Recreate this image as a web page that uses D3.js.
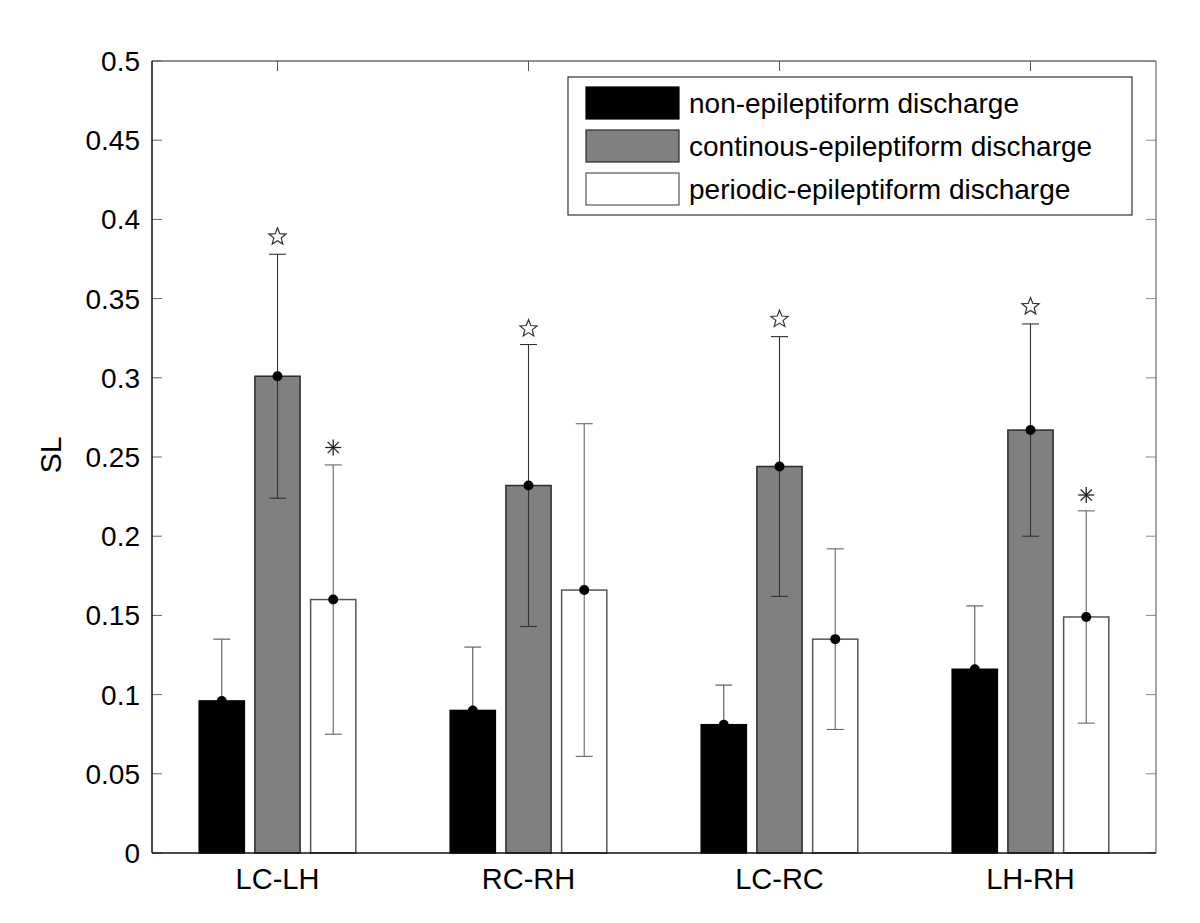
<!DOCTYPE html>
<html><head><meta charset="utf-8">
<script src="https://cdn.jsdelivr.net/npm/d3@7"></script>
<style>body{margin:0;background:#fff}svg{display:block}text{font-family:Arial,"Liberation Sans",Helvetica,sans-serif}</style>
</head><body><div id="chart"></div>
<script>
const categories = ["LC-LH","RC-RH","LC-RC","LH-RH"];
const seriesNames = ["non-epileptiform discharge","continous-epileptiform discharge","periodic-epileptiform discharge"];
const nonMean = [0.096, 0.090, 0.081, 0.116];
const nonErr  = [0.039, 0.040, 0.025, 0.040];
const contMean = [0.301, 0.232, 0.244, 0.267];
const contErr  = [0.077, 0.089, 0.082, 0.067];
const perMean = [0.160, 0.166, 0.135, 0.149];
const perErr  = [0.085, 0.105, 0.057, 0.067];
const starMark = [0.389, 0.331, 0.337, 0.345];      // pentagram markers above continuous bars
const asteriskMark = [0.256, null, null, 0.226];    // asterisk markers above periodic bars
const yTicks = [0,0.05,0.1,0.15,0.2,0.25,0.3,0.35,0.4,0.45,0.5];

const W=1200,H=923, L=152,R=1156,T=61,B=853;
const svg=d3.select("#chart").append("svg").attr("width",W).attr("height",H);
const x=d3.scaleLinear().domain([0.5,4.5]).range([L,R]);
const y=d3.scaleLinear().domain([0,0.5]).range([B,T]);
const fills=["#000000","#808080","#ffffff"];
const edges=["#000000","#2a2a2a","#555555"];
const errCols=["#555555","#333333","#666666"];
const offs=[-0.222,0,0.222], bw=0.18;
const means=[nonMean,contMean,perMean], errs=[nonErr,contErr,perErr];

// frame top/right
svg.append("line").attr("x1",L).attr("x2",R).attr("y1",T).attr("y2",T).attr("stroke","#222");
svg.append("line").attr("x1",R).attr("x2",R).attr("y1",T).attr("y2",B).attr("stroke","#888").attr("stroke-width",1.5);
// ticks
yTicks.forEach(t=>{
  svg.append("line").attr("x1",L).attr("x2",L+10).attr("y1",y(t)).attr("y2",y(t)).attr("stroke","#666");
  svg.append("line").attr("x1",R-10).attr("x2",R).attr("y1",y(t)).attr("y2",y(t)).attr("stroke","#888");
});
categories.forEach((c,i)=>{
  svg.append("line").attr("x1",x(i+1)).attr("x2",x(i+1)).attr("y1",T).attr("y2",T+10).attr("stroke","#555");
  svg.append("line").attr("x1",x(i+1)).attr("x2",x(i+1)).attr("y1",B).attr("y2",B-10).attr("stroke","#555");
});
function drawErr(s){
  const m=means[s];
  const g=svg.append("g").attr("stroke",errCols[s]).attr("stroke-width",1.1);
  m.forEach((d,i)=>{
    const cx=x(i+1+offs[s]), e=errs[s][i];
    g.append("line").attr("x1",cx).attr("x2",cx).attr("y1",y(d-e)).attr("y2",y(d+e));
    g.append("line").attr("x1",cx-8.5).attr("x2",cx+8.5).attr("y1",y(d+e)).attr("y2",y(d+e));
    g.append("line").attr("x1",cx-8.5).attr("x2",cx+8.5).attr("y1",y(d-e)).attr("y2",y(d-e));
  });
}
// black-series error bars sit behind their bars
drawErr(0);
// bars
means.forEach((m,s)=>{
  svg.append("g").selectAll("rect").data(m).join("rect")
    .attr("x",(d,i)=>x(i+1+offs[s]-bw/2)).attr("width",x(bw)-x(0))
    .attr("y",d=>y(d)).attr("height",d=>y(0)-y(d))
    .attr("fill",fills[s]).attr("stroke",edges[s]).attr("stroke-width",1.5);
});
drawErr(1); drawErr(2);
means.forEach((m,s)=>{
  svg.append("g").selectAll("circle").data(m).join("circle")
    .attr("cx",(d,i)=>x(i+1+offs[s])).attr("cy",d=>y(d)).attr("r",5).attr("fill","#000");
});
// star markers
function starPath(cx,cy,ro,ri){
  const p=[];for(let k=0;k<10;k++){const r=k%2?ri:ro;const a=-Math.PI/2+k*Math.PI/5;p.push([cx+r*Math.cos(a),cy+r*Math.sin(a)]);}
  return "M"+p.map(q=>q.join(",")).join("L")+"Z";
}
starMark.forEach((v,i)=>{ if(v==null)return;
  svg.append("path").attr("d",starPath(x(i+1+offs[1]),y(v),9,3.9)).attr("fill","none").attr("stroke","#333").attr("stroke-width",1.2);
});
asteriskMark.forEach((v,i)=>{ if(v==null)return;
  const cx=x(i+1+offs[2]), cy=y(v), r=8;
  const g=svg.append("g").attr("stroke","#222").attr("stroke-width",1.3);
  [[0,-r,0,r],[-r,0,r,0],[-r*0.7,-r*0.7,r*0.7,r*0.7],[-r*0.7,r*0.7,r*0.7,-r*0.7]].forEach(a=>
    g.append("line").attr("x1",cx+a[0]).attr("y1",cy+a[1]).attr("x2",cx+a[2]).attr("y2",cy+a[3]));
});
// axes lines
svg.append("line").attr("x1",L).attr("x2",L).attr("y1",T).attr("y2",B).attr("stroke","#111").attr("stroke-width",1.5);
svg.append("line").attr("x1",L).attr("x2",R).attr("y1",B).attr("y2",B).attr("stroke","#111").attr("stroke-width",1.5);
// tick labels
yTicks.forEach(t=>svg.append("text").attr("x",L-12).attr("y",y(t)).attr("dy","0.36em").attr("text-anchor","end")
  .attr("font-size",28).text(d3.format("~g")(t)));
categories.forEach((c,i)=>svg.append("text").attr("x",x(i+1)).attr("y",B+36).attr("text-anchor","middle").attr("font-size",29).text(c));
svg.append("text").attr("transform",`translate(61,${(T+B)/2-2}) rotate(-90)`).attr("text-anchor","middle").attr("font-size",30).text("SL");
// legend
const lg=svg.append("g");
lg.append("rect").attr("x",568).attr("y",77).attr("width",564).attr("height",138).attr("fill","#fff").attr("stroke","#333").attr("stroke-width",1.2);
const rowsY=[103,146,189];
seriesNames.forEach((n,s)=>{
  lg.append("rect").attr("x",586).attr("y",rowsY[s]-16).attr("width",93).attr("height",32).attr("fill",fills[s]).attr("stroke",edges[s]).attr("stroke-width",1.2);
  lg.append("text").attr("x",689).attr("y",rowsY[s]).attr("dy","0.36em").attr("font-size",28).text(n);
});
</script></body></html>
